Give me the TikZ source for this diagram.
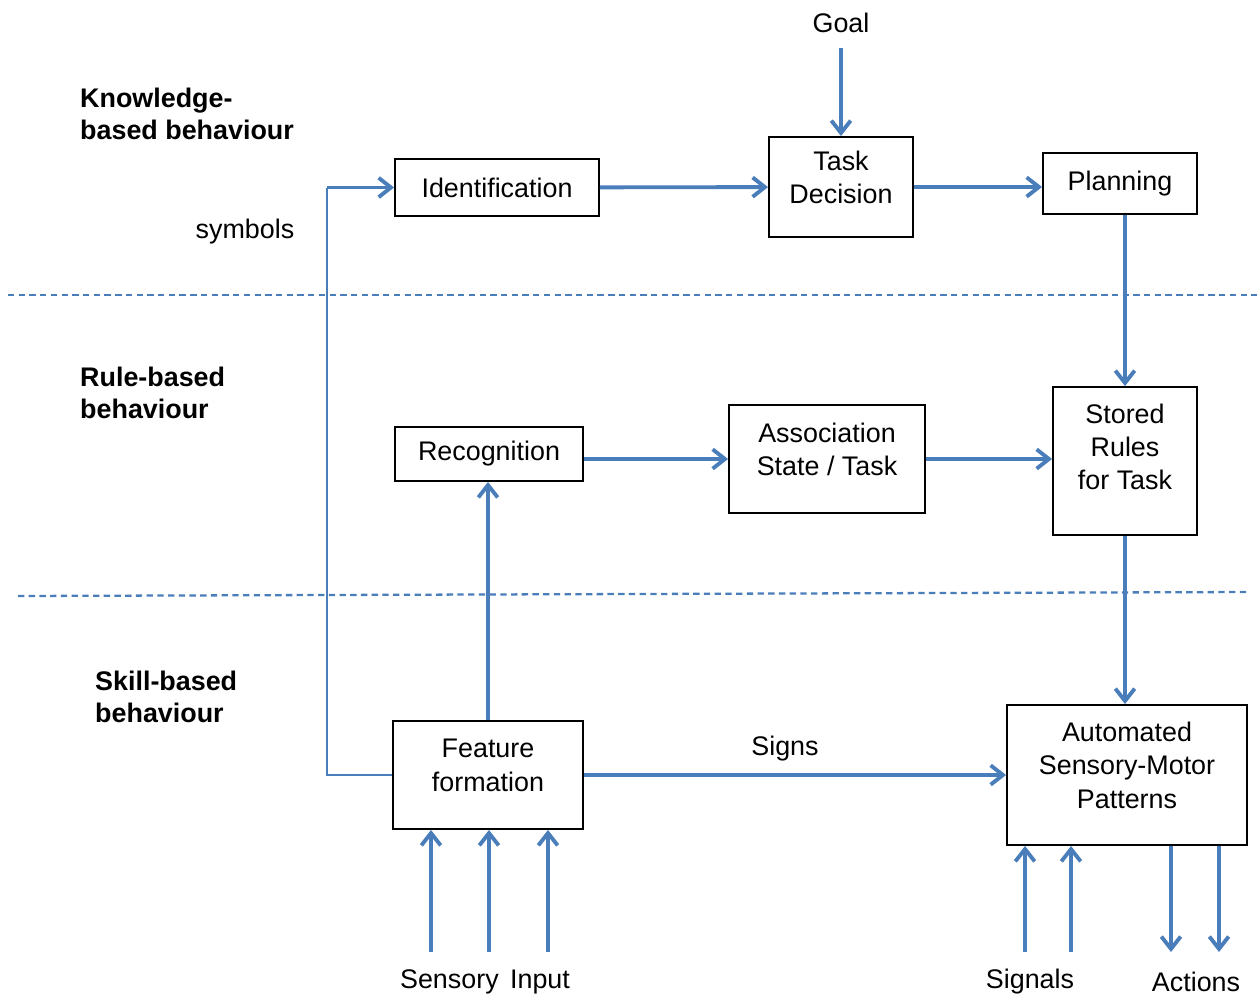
\documentclass[tikz,border=0pt]{standalone}
\usepackage{fontspec}
\setmainfont{Liberation Sans}
\usetikzlibrary{arrows.meta}
\definecolor{flowblue}{RGB}{74,126,187}

\begin{document}
\begin{tikzpicture}[x=0.02cm, y=-0.02cm,
    font=\fontsize{15.3}{19}\selectfont,
    myblock/.style={rectangle, draw=black, line width=1.1pt, align=center, inner sep=2pt},
    mytext/.style={align=center, yshift=5.5pt},
    mylevel/.style={font=\fontsize{15.3}{18.3}\selectfont\bfseries, align=left, anchor=west},
    myflow/.style={-{Straight Barb[length=7pt, width=11pt]}, line width=2.2pt, flowblue},
    myline/.style={line width=1.1pt, flowblue},
    mysep/.style={line width=1.3pt, flowblue, dash pattern=on 3.6pt off 2.5pt}
]
    \useasboundingbox (0,0) rectangle (1257,997);

    % Level separators
    \draw[mysep] (8,295) -- (1257,295);
    \draw[mysep] (18,596) -- (1250,592);

    % Level names
    \node[mylevel] (knw) at (74,114) {Knowledge-\\based behaviour};
    \node[mylevel] (rul) at (74,393) {Rule-based\\behaviour};
    \node[mylevel] (skl) at (89,697) {Skill-based\\behaviour};

    % Knowledge level
    \node (goal) at (841,23) {Goal};
    \node[myblock, minimum width=4.08cm, minimum height=1.14cm] (ident) at (497,187.5) {Identification};
    \node[myblock, minimum width=2.88cm, minimum height=2cm,
          label={[mytext]center:{Task\\Decision}}] (task) at (841,187) {};
    \node[myblock, minimum width=3.08cm, minimum height=1.22cm] (plan) at (1120,183.5) {Planning};
    \node (symb) at (245,232) {symbols};

    % Rule level
    \node[myblock, minimum width=3.76cm, minimum height=1.08cm] (recog) at (489,454) {Recognition};
    \node[myblock, minimum width=3.92cm, minimum height=2.16cm,
          label={[mytext]center:{Association\\State / Task}}] (assoc) at (827,459) {};
    \node[myblock, minimum width=2.88cm, minimum height=2.96cm,
          label={[mytext, yshift=2.5pt]center:{Stored\\Rules\\for Task}}] (rules) at (1125,461) {};

    % Skill level
    \node[myblock, minimum width=3.8cm, minimum height=2.16cm,
          label={[mytext]center:{Feature\\formation}}] (feat) at (488,775) {};
    \node[myblock, minimum width=4.8cm, minimum height=2.8cm,
          label={[mytext]center:{Automated\\Sensory-Motor\\Patterns}}] (auto) at (1127,775) {};
    \node (signs) at (785,749) {Signs};

    % Inputs and outputs
    \node (sens) at (485,982) {Sensory\hspace{6.5pt}Input};
    \node (sigs) at (1030,982) {Signals};
    \node (acts) at (1196,982) {Actions};
    \coordinate (bend) at (327,187.5);

    % Connectors
    \draw[myflow, shorten <=5pt] (goal) -- (task);
    \draw[myflow] (ident) -- (task);
    \draw[myflow] (task) -- (task -| plan.west);
    \draw[myflow] (plan.south -| rules) -- (rules);
    \draw[myflow] (assoc -| recog.east) -- (assoc);
    \draw[myflow] (assoc) -- (assoc -| rules.west);
    \draw[myflow] (rules) -- (rules |- auto.north);
    \draw[myflow] (feat) -- (feat |- recog.south);
    \draw[myflow] (feat) -- (auto);
    \draw[myline] (feat.west) -| (bend);
    \draw[myflow] (bend) -- (ident);

    \foreach \x [count=\i] in {431,489,548} {
        \coordinate (in\i) at (\x,952);
        \draw[myflow] (in\i) -- (in\i |- feat.south);
    }
    \foreach \x [count=\i] in {1025,1071} {
        \coordinate (sg\i) at (\x,952);
        \draw[myflow] (sg\i) -- (sg\i |- auto.south);
    }
    \foreach \x [count=\i] in {1171,1219} {
        \coordinate (ac\i) at (\x,952);
        \draw[myflow] (ac\i |- auto.south) -- (ac\i);
    }
\end{tikzpicture}
\end{document}
